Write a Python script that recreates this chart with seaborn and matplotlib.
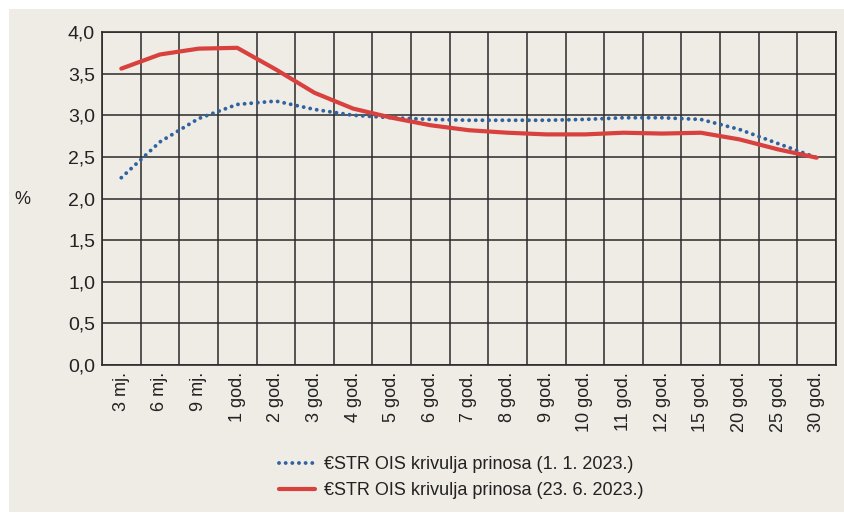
import pandas as pd
import matplotlib.pyplot as plt
import seaborn as sns
from matplotlib.patches import Rectangle

# rokovi dospijeca
maturities = ["3 mj.", "6 mj.", "9 mj.", "1 god.", "2 god.", "3 god.", "4 god.",
              "5 god.", "6 god.", "7 god.", "8 god.", "9 god.", "10 god.", "11 god.",
              "12 god.", "15 god.", "20 god.", "25 god.", "30 god."]
ois_jan = [2.25, 2.68, 2.96, 3.13, 3.17, 3.07, 3.00, 2.97, 2.95, 2.94,
           2.94, 2.94, 2.95, 2.97, 2.97, 2.95, 2.83, 2.66, 2.49]
ois_jun = [3.56, 3.73, 3.80, 3.81, 3.55, 3.27, 3.08, 2.97, 2.88, 2.82,
           2.79, 2.77, 2.77, 2.79, 2.78, 2.79, 2.71, 2.59, 2.49]
label_jan = "€STR OIS krivulja prinosa (1. 1. 2023.)"
label_jun = "€STR OIS krivulja prinosa (23. 6. 2023.)"
y_ticks = [0.0, 0.5, 1.0, 1.5, 2.0, 2.5, 3.0, 3.5, 4.0]

BG = "#efebe5"
BLUE = "#2f63a0"
RED = "#d8413d"
DOTS = (0, (0.01, 1.7))


def main():
    sns.set_style("white")
    plt.rcParams['font.family'] = ['Liberation Sans', 'DejaVu Sans']

    df = pd.DataFrame({"rok": maturities, "jan": ois_jan, "jun": ois_jun})

    fig = plt.figure(figsize=(8.45, 5.14), dpi=100, facecolor="white")
    fig.patches.append(Rectangle((9 / 845, 2 / 514), 1, 1 - 11 / 514,
                                 transform=fig.transFigure, facecolor=BG,
                                 edgecolor="none", zorder=-10))
    ax = fig.add_axes([102 / 845, 1 - 365 / 514, 734 / 845, 333 / 514])
    ax.set_facecolor(BG)

    sns.lineplot(data=df, x="rok", y="jan", ax=ax, color=BLUE, linewidth=2.8,
                 label=label_jan, sort=False)
    sns.lineplot(data=df, x="rok", y="jun", ax=ax, color=RED, linewidth=3.0,
                 label=label_jun, sort=False)
    l_jan = ax.lines[0]
    l_jan.set_linestyle(DOTS)
    l_jan.set_dash_capstyle("round")
    ax.lines[1].set_solid_capstyle("round")

    n = len(maturities)
    ax.set_xlim(-0.5, n - 0.5)
    ax.set_ylim(0, 4)
    ax.set_yticks(y_ticks)
    ax.set_yticklabels([f"{v:.1f}".replace(".", ",") for v in y_ticks], fontsize=14)
    ax.set_xticks(range(n))
    ax.set_xticklabels(maturities, rotation=90, fontsize=13)
    ax.set_xticks([i + 0.5 for i in range(-1, n)], minor=True)
    ax.tick_params(axis="both", which="both", length=0, pad=5, colors="#222222")
    ax.grid(which="minor", axis="x", color="#2b2b2b", linewidth=1.1)
    ax.grid(which="major", axis="y", color="#2b2b2b", linewidth=1.1)
    ax.set_axisbelow(True)
    for s in ax.spines.values():
        s.set_color("#2b2b2b")
        s.set_linewidth(1.2)
    ax.set_xlabel("")
    ax.set_ylabel("")
    fig.text(22 / 845, 1 - 200 / 514, "%", fontsize=13, ha="center", va="center",
             color="#222222")

    leg = ax.legend(loc="upper center", bbox_to_anchor=(0.49, -0.225), frameon=False,
                    fontsize=13, handlelength=2.0, handletextpad=0.5,
                    labelspacing=0.5)
    leg.get_lines()[0].set_linestyle(DOTS)
    leg.get_lines()[0].set_dash_capstyle("round")
    for t in leg.get_texts():
        t.set_color("#222222")

    fig.savefig("out.png", dpi=100, facecolor="white")


if __name__ == "__main__":
    main()
